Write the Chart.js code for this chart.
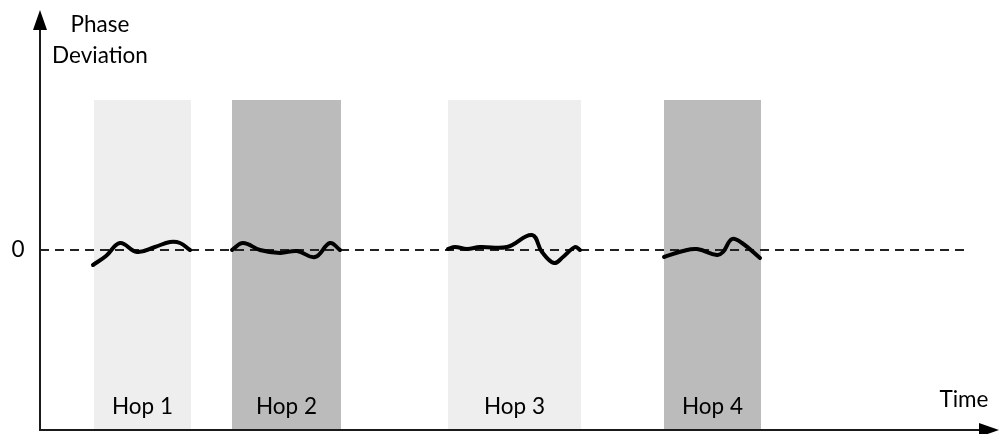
<!DOCTYPE html>
<html>
<head>
<meta charset="utf-8">
<script src="https://cdn.jsdelivr.net/npm/chart.js@4/dist/chart.umd.min.js"></script>
<style>
html,body{margin:0;padding:0;background:#fff;}
#wrap{width:1000px;height:434px;position:relative;}
</style>
</head>
<body>
<div id="wrap"><canvas id="c" width="1000" height="434"></canvas></div>
<script>
// Hop bands (time units) and colours
const hopLabels = ["Hop 1", "Hop 2", "Hop 3", "Hop 4"];
const hopStart  = [54, 192, 408, 624];
const hopEnd    = [151, 301, 541, 721];
const hopTop    = 150;
const hopColors = ["#eeeeee", "#bbbbbb", "#eeeeee", "#bbbbbb"];

// Phase deviation traces within each hop
const hop1X = [53, 66, 80, 97, 115, 130, 140, 150];
const hop1Y = [-15, -6, 7, -2, 3, 8, 7, 0];
const hop2X = [192, 203, 220, 240, 257, 275, 290, 300];
const hop2Y = [0, 7, 0, -3, -1, -7, 7, 0];
const hop3X = [408, 415, 427, 440, 467, 492, 502, 514, 523, 535, 540];
const hop3Y = [1, 3, 1, 3, 3, 15, -2, -13, -7, 3, 0];
const hop4X = [624, 643, 657, 677, 683, 692, 702, 720];
const hop4Y = [-7, -1, 1, -5, -2, 11, 7, -8];

const zeroLineX = [0, 928];
const zeroLineY = [0, 0];

const xMin = 0, xMax = 960, yMin = -180, yMax = 240;

const FONT = "Lato, 'Open Sans', sans-serif";

function pts(xs, ys){ return xs.map((x,i)=>({x:x, y:ys[i]})); }

const datasets = [];
hopLabels.forEach((lab, i) => {
  datasets.push({
    label: lab,
    data: [{x: hopStart[i], y: hopTop}, {x: hopEnd[i], y: hopTop}],
    borderWidth: 0,
    borderColor: 'rgba(0,0,0,0)',
    backgroundColor: hopColors[i],
    fill: 'start',
    pointRadius: 0,
    tension: 0,
    order: 10
  });
});
datasets.push({
  label: 'zero',
  data: pts(zeroLineX, zeroLineY),
  borderColor: '#222222',
  borderWidth: 1.8,
  borderDash: [9, 6],
  pointRadius: 0,
  fill: false,
  order: 5
});
[[hop1X,hop1Y],[hop2X,hop2Y],[hop3X,hop3Y],[hop4X,hop4Y]].forEach((d, i) => {
  datasets.push({
    label: 'trace' + (i+1),
    data: pts(d[0], d[1]),
    borderColor: '#000000',
    borderWidth: 4,
    pointRadius: 0,
    fill: false,
    tension: 0.4,
    borderCapStyle: 'round',
    order: 1
  });
});

const decor = {
  id: 'decor',
  afterDatasetsDraw(chart) {
    const ctx = chart.ctx;
    const xs = chart.scales.x, ys = chart.scales.y;
    const ox = xs.getPixelForValue(xMin), oy = ys.getPixelForValue(yMin);
    const ex = xs.getPixelForValue(xMax), ty = ys.getPixelForValue(yMax);
    ctx.save();
    ctx.strokeStyle = '#1a1a1a';
    ctx.fillStyle = '#000';
    ctx.lineWidth = 2;
    // y axis
    ctx.beginPath(); ctx.moveTo(ox, oy + 1); ctx.lineTo(ox, ty + 16); ctx.stroke();
    ctx.beginPath(); ctx.moveTo(ox, ty); ctx.lineTo(ox - 7, ty + 20); ctx.lineTo(ox + 7, ty + 20); ctx.closePath(); ctx.fill();
    // x axis
    ctx.beginPath(); ctx.moveTo(ox - 1, oy); ctx.lineTo(ex - 16, oy); ctx.stroke();
    ctx.beginPath(); ctx.moveTo(ex - 1, oy); ctx.lineTo(ex - 21, oy - 7); ctx.lineTo(ex - 21, oy + 7); ctx.closePath(); ctx.fill();

    // texts
    ctx.fillStyle = '#000';
    ctx.font = '22.5px ' + FONT;
    ctx.textAlign = 'center';
    ctx.textBaseline = 'alphabetic';
    ctx.fillText('Phase', 100, 32);
    ctx.fillText('Deviation', 100, 63);
    ctx.fillText('Time', 964, 407);
    ctx.textBaseline = 'middle';
    ctx.fillText('0', 18, ys.getPixelForValue(0));
    ctx.textBaseline = 'alphabetic';
    hopLabels.forEach((lab, i) => {
      const cx = (xs.getPixelForValue(hopStart[i]) + xs.getPixelForValue(hopEnd[i])) / 2;
      ctx.fillText(lab, cx, 414);
    });
    ctx.restore();
  }
};

new Chart(document.getElementById('c'), {
  type: 'line',
  data: { datasets },
  options: {
    responsive: false,
    animation: false,
    devicePixelRatio: 1,
    layout: { padding: { left: 40, right: 0, top: 10, bottom: 4 } },
    plugins: { legend: { display: false }, tooltip: { enabled: false } },
    scales: {
      x: { type: 'linear', min: xMin, max: xMax, display: false },
      y: { type: 'linear', min: yMin, max: yMax, display: false }
    }
  },
  plugins: [decor]
});
</script>
</body>
</html>
